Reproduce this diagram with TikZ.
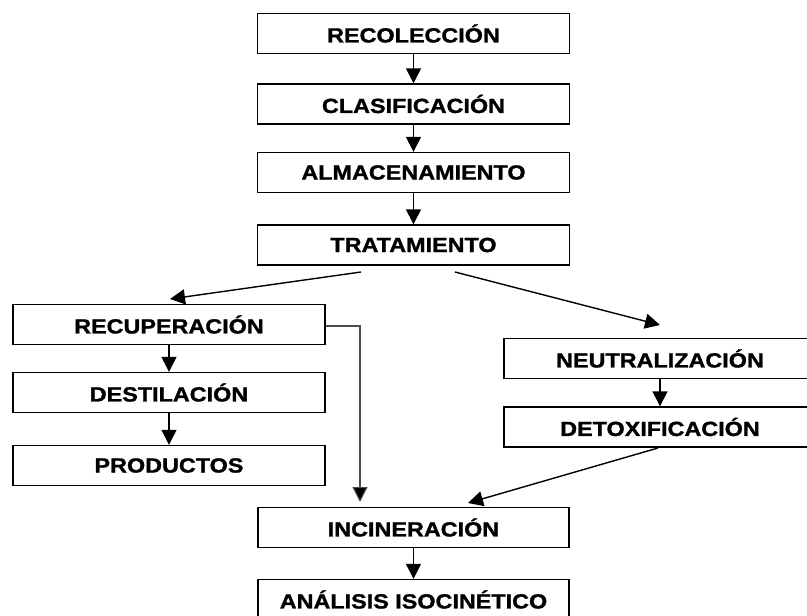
\documentclass[tikz,border=0pt]{standalone}
\usepackage{fontspec}
\setmainfont{Liberation Sans}[BoldFeatures={FakeBold=1.2}]
\usetikzlibrary{arrows.meta}
\tikzset{
  stagebox/.style={draw, line width=1.4pt, minimum width=312pt, minimum height=40pt, inner sep=0pt,
    font=\fontsize{20.5pt}{22pt}\selectfont\bfseries},
  flow/.style={line width=1.4pt, -{Triangle[width=15pt,length=15pt]}},
  thinflow/.style={line width=1.1pt, draw=black!70, -{Triangle[width=15pt,length=15pt,fill=black]}}
}
\newcommand{\wtext}[1]{\scalebox{1.14}[1]{#1}}
\begin{document}
\begin{tikzpicture}[x=1pt,y=-1pt]
\useasboundingbox (0,0) rectangle (807,616);
\begin{scope}
\clip (0,0) rectangle (807,616);
\node[stagebox] (rec) at (413.5,33.5) {\wtext{RECOLECCIÓN}};
\node[stagebox] (cla) at (413.5,104) {\wtext{CLASIFICACIÓN}};
\node[stagebox] (alm) at (413.5,172.5) {\wtext{ALMACENAMIENTO}};
\node[stagebox] (tra) at (413.5,245) {\wtext{TRATAMIENTO}};
\node[stagebox] (recu) at (169,324.5) {\wtext{RECUPERACIÓN}};
\node[stagebox] (des) at (169,392.5) {\wtext{DESTILACIÓN}};
\node[stagebox] (pro) at (169,465.5) {\wtext{PRODUCTOS}};
\node[stagebox] (neu) at (660,358.5) {\wtext{NEUTRALIZACIÓN}};
\node[stagebox] (det) at (660,427) {\wtext{DETOXIFICACIÓN}};
\node[stagebox, minimum width=311pt] (inc) at (413.5,527.5) {\wtext{INCINERACIÓN}};
\node[stagebox, minimum width=311pt] (ana) at (413.5,599.5) {\wtext{ANÁLISIS ISOCINÉTICO}};
\end{scope}
\draw[flow] (rec.south) -- (cla.north);
\draw[flow] (cla.south) -- (alm.north);
\draw[flow] (alm.south) -- (tra.north);
\coordinate (tl) at (361,272);
\coordinate (tlend) at (170,299);
\coordinate (tr) at (455,272);
\coordinate (trend) at (660,325);
\draw[flow] (tl) -- (tlend);
\draw[flow] (tr) -- (trend);
\draw[flow] (recu.south) -- (des.north);
\draw[flow] (des.south) -- (pro.north);
\draw[flow] (neu.south) -- (det.north);
\coordinate (dstart) at (658,448);
\coordinate (dend) at (468,503);
\draw[flow] (dstart) -- (dend);
\coordinate (elb) at (360,326);
\coordinate (elbend) at (360,502);
\draw[thinflow] (recu.east |- elb) -- (elb) -- (elbend);
\draw[flow] (inc.south) -- (ana.north);
\end{tikzpicture}
\end{document}
